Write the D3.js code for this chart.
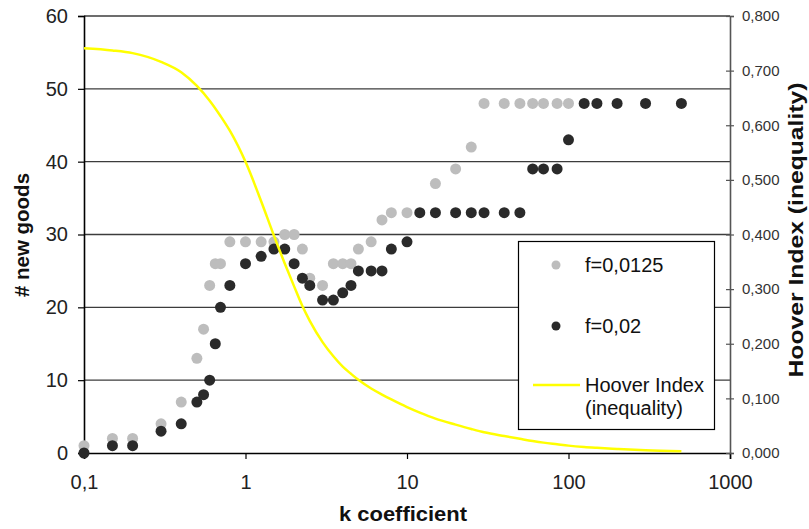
<!DOCTYPE html>
<html>
<head>
<meta charset="utf-8">
<script src="https://cdn.jsdelivr.net/npm/d3@7"></script>
<style>
  html, body { margin: 0; padding: 0; background: #fff; }
  svg { display: block; font-family: "Liberation Sans", Arial, sans-serif; }
</style>
</head>
<body>
<svg id="chart" width="809" height="529"></svg>
<script>
// ---- data ----
const grayK      = [0.1, 0.15, 0.2, 0.3, 0.4, 0.5, 0.55, 0.6, 0.65, 0.7, 0.8, 1, 1.25, 1.5, 1.75, 2, 2.25, 2.5, 3, 3.5, 4, 4.5, 5, 6, 7, 8, 10, 15, 20, 25, 30, 40, 50, 60, 70, 85, 100];
const grayValues = [1,   2,    2,   4,   7,   13,  17,   23,  26,   26,  29,  29, 29,   29,  30,   30, 28,   24,  23, 26,  26, 26,  28, 29, 32, 33, 33, 37, 39, 42, 48, 48, 48, 48, 48, 48, 48];

const blackK      = [0.1, 0.15, 0.2, 0.3, 0.4, 0.5, 0.55, 0.6, 0.65, 0.7, 0.8, 1, 1.25, 1.5, 1.75, 2, 2.25, 2.5, 3, 3.5, 4, 4.5, 5, 6, 7, 8, 10, 12, 15, 20, 25, 30, 40, 50, 60, 70, 85, 100, 125, 150, 200, 300, 500];
const blackValues = [0,   1,    1,   3,   4,   7,   8,    10,  15,   20,  23,  26, 27,   28,  28,   26, 24,   23,  21, 21,  22, 23,  25, 25, 25, 28, 29, 33, 33, 33, 33, 33, 33, 33, 39, 39, 39, 43, 48, 48, 48, 48, 48];

const hooverK      = [0.1, 0.15, 0.2, 0.3, 0.4, 0.5, 0.6, 0.7, 0.8, 1, 1.25, 1.5, 1.75, 2, 2.25, 2.5, 3, 3.5, 4, 4.5, 5, 6, 7, 8, 10, 12, 15, 20, 25, 30, 40, 50, 60, 70, 85, 100, 125, 150, 200, 300, 500];
const hooverValues = [0.741, 0.737, 0.732, 0.716, 0.697, 0.672, 0.645, 0.617, 0.590, 0.533, 0.461, 0.398, 0.347, 0.305, 0.269, 0.242, 0.203, 0.177, 0.158, 0.145, 0.134, 0.118, 0.107, 0.098, 0.084, 0.074, 0.063, 0.052, 0.044, 0.038, 0.031, 0.026, 0.022, 0.019, 0.016, 0.0135, 0.011, 0.0095, 0.0075, 0.005, 0.003];

const xTicks = [0.1, 1, 10, 100, 1000];
const yTicks = [0, 10, 20, 30, 40, 50, 60];
const y2Ticks = [0, 0.1, 0.2, 0.3, 0.4, 0.5, 0.6, 0.7, 0.8];
const legendLabels = ["f=0,0125", "f=0,02", "Hoover Index", "(inequality)"];

// ---- layout ----
const L = 84, R = 730, T = 16, B = 453;
const svg = d3.select("#chart");

const x = d3.scaleLog().domain([0.1, 1000]).range([L, R]);
const y = d3.scaleLinear().domain([0, 60]).range([B, T]);
const y2 = d3.scaleLinear().domain([0, 0.8]).range([B, T]);

const comma = s => s.replace(".", ",");

// gridlines
svg.append("g").selectAll("line")
  .data(yTicks.filter(d => d > 0))
  .join("line")
  .attr("x1", L).attr("x2", R)
  .attr("y1", d => y(d)).attr("y2", d => y(d))
  .attr("stroke", "#3c3c3c").attr("stroke-width", 1.3);

// left axis
const gy = svg.append("g").attr("transform", `translate(${L},0)`)
  .call(d3.axisLeft(y).tickValues(yTicks).tickSize(6).tickPadding(10).tickFormat(d3.format("d")));
gy.select(".domain").attr("stroke", "#000").attr("stroke-width", 1.6);
gy.selectAll(".tick line").attr("stroke", "#000").attr("stroke-width", 1.2);
gy.selectAll("text").attr("font-size", 20).attr("fill", "#222").attr("font-family", "Liberation Sans, Arial, sans-serif");

// bottom axis
const gx = svg.append("g").attr("transform", `translate(0,${B})`)
  .call(d3.axisBottom(x).tickValues(xTicks).tickSize(6).tickPadding(16).tickFormat(d => comma(String(d))));
gx.select(".domain").attr("stroke", "#000").attr("stroke-width", 1.6);
gx.selectAll(".tick line").attr("stroke", "#000").attr("stroke-width", 1.2);
gx.selectAll("text").attr("font-size", 20).attr("fill", "#222").attr("font-family", "Liberation Sans, Arial, sans-serif");

// right axis
const gy2 = svg.append("g").attr("transform", `translate(${R},0)`)
  .call(d3.axisRight(y2).tickValues(y2Ticks).tickSize(4).tickPadding(8).tickFormat(d => comma(d3.format(".3f")(d))));
gy2.select(".domain").attr("stroke", "#555").attr("stroke-width", 1.6);
gy2.selectAll(".tick line").attr("x1", -4).attr("x2", 4).attr("stroke", "#555").attr("stroke-width", 1.2);
gy2.selectAll("text").attr("font-size", 15).attr("fill", "#333").attr("font-family", "Liberation Sans, Arial, sans-serif");

// points
const r = 5.5;
svg.append("g").selectAll("circle")
  .data(grayK.map((k, i) => [k, grayValues[i]]))
  .join("circle")
  .attr("cx", d => x(d[0])).attr("cy", d => y(d[1])).attr("r", r)
  .attr("fill", "#bdbdbd");

svg.append("g").selectAll("circle")
  .data(blackK.map((k, i) => [k, blackValues[i]]))
  .join("circle")
  .attr("cx", d => x(d[0])).attr("cy", d => y(d[1])).attr("r", r)
  .attr("fill", "#2a2a2a");

// Hoover line
const line = d3.line().x(d => x(d[0])).y(d => y2(d[1])).curve(d3.curveMonotoneX);
svg.append("path")
  .datum(hooverK.map((k, i) => [k, hooverValues[i]]))
  .attr("d", line)
  .attr("fill", "none").attr("stroke", "#ffff00").attr("stroke-width", 2.5);

// legend
const lg = svg.append("g");
lg.append("rect").attr("x", 518.5).attr("y", 241.5).attr("width", 196).attr("height", 188)
  .attr("fill", "#fff").attr("stroke", "#000").attr("stroke-width", 1.2);
lg.append("circle").attr("cx", 556).attr("cy", 265).attr("r", 4.5).attr("fill", "#bdbdbd");
lg.append("circle").attr("cx", 556).attr("cy", 326).attr("r", 4.5).attr("fill", "#2a2a2a");
lg.append("line").attr("x1", 533).attr("x2", 580).attr("y1", 385).attr("y2", 385)
  .attr("stroke", "#ffff00").attr("stroke-width", 2.5);
const lt = [[585, 272, legendLabels[0]], [585, 333, legendLabels[1]], [585, 392, legendLabels[2]], [585, 415, legendLabels[3]]];
lg.selectAll("text").data(lt).join("text")
  .attr("x", d => d[0]).attr("y", d => d[1]).text(d => d[2])
  .attr("font-size", 20).attr("fill", "#111");

// titles
svg.append("text").attr("x", 403).attr("y", 521).attr("text-anchor", "middle")
  .attr("font-size", 20).attr("font-weight", "bold").attr("fill", "#111")
  .attr("textLength", 128).attr("lengthAdjust", "spacingAndGlyphs").text("k coefficient");
svg.append("text").attr("transform", "translate(29,235) rotate(-90)").attr("text-anchor", "middle")
  .attr("font-size", 20).attr("font-weight", "bold").attr("fill", "#111")
  .attr("textLength", 124).attr("lengthAdjust", "spacingAndGlyphs").text("# new goods");
svg.append("text").attr("transform", "translate(803,230) rotate(-90)").attr("text-anchor", "middle")
  .attr("font-size", 21).attr("font-weight", "bold").attr("fill", "#111")
  .attr("textLength", 295).attr("lengthAdjust", "spacingAndGlyphs").text("Hoover Index (inequality)");
</script>
</body>
</html>
